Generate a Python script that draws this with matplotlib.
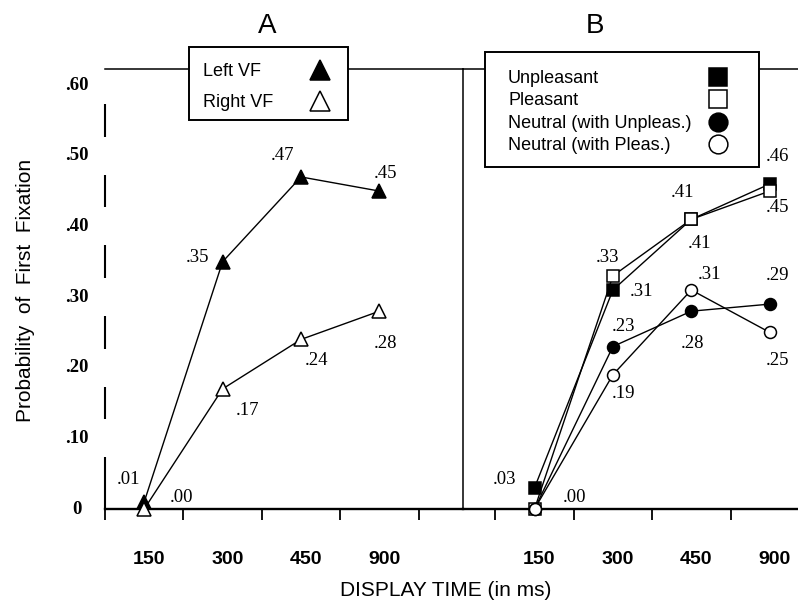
import matplotlib
matplotlib.use("Agg")
import matplotlib.pyplot as plt
from matplotlib.lines import Line2D
from matplotlib.patches import Rectangle
from matplotlib.transforms import ScaledTranslation

# ---- data ----
display_times = ["150", "300", "450", "900"]

left_vf = [0.01, 0.35, 0.47, 0.45]
right_vf = [0.00, 0.17, 0.24, 0.28]

unpleasant = [0.03, 0.31, 0.41, 0.46]
pleasant = [0.00, 0.33, 0.41, 0.45]
neutral_unpleas = [0.00, 0.23, 0.28, 0.29]
neutral_pleas = [0.00, 0.19, 0.31, 0.25]

y_ticks = [0.0, 0.10, 0.20, 0.30, 0.40, 0.50, 0.60]
y_tick_labels = ["0", ".10", ".20", ".30", ".40", ".50", ".60"]

# value label offsets in pixels (None = no label)
offsets_a = {
    "Left VF": [(-16, 22), (-25, 4), (-18, 21), (6, 18)],
    "Right VF": [(37, 12), (25, -22), (16, -21), (6, -32)],
}
offsets_b = {
    "Unpleasant": [(-30, 8), (29, -2), (8, -24), (8, 28)],
    "Pleasant": [(40, 12), (-5, 18), (-9, 27), (8, -16)],
    "Neutral (with Unpleas.)": [None, (11, 20), (1, -32), (8, 29)],
    "Neutral (with Pleas.)": [None, (11, -19), (18, 15), (8, -28)],
}

W, H = 798, 605
SANS = "Liberation Sans"
SERIF = "Liberation Serif"
YMAX = 440 / 706.5
STEP = 78.4


def fx(px):
    return px / W


def fy(py):
    return 1 - py / H


def plot_series(ax, values, offsets, marker, filled, ms):
    xs = list(range(len(values)))
    ax.plot(xs, values, color="black", lw=1.0, marker=marker, ms=ms,
            mfc="black" if filled else "white", mec="black", mew=1.1,
            clip_on=False, zorder=3)
    for x, v, off in zip(xs, values, offsets):
        if off is None:
            continue
        ax.annotate(f".{round(v * 100):02d}", (x, v), xytext=off,
                    textcoords="offset pixels", ha="center", va="center",
                    family=SERIF, fontsize=13.5)


def style_axes(ax, xlim):
    ax.set_xlim(*xlim)
    ax.set_ylim(0, YMAX)
    ax.set_yticks([])
    ax.patch.set_alpha(0)
    bounds = [t - 0.5 for t in range(5) if xlim[0] - 0.01 <= t - 0.5 <= xlim[1]]
    ax.set_xticks(bounds)
    ax.set_xticklabels([])
    ax.set_xticks(range(len(display_times)), minor=True)
    ax.set_xticklabels(display_times, minor=True, family=SANS,
                       fontweight="bold", fontsize=14)
    ax.tick_params(axis="x", which="major", direction="out", length=8,
                   width=1.3, color="black")
    ax.tick_params(axis="x", which="minor", length=0, pad=30)
    shift = ScaledTranslation(5 / 100, 0, fig.dpi_scale_trans)
    for lab in ax.get_xticklabels(minor=True):
        lab.set_transform(lab.get_transform() + shift)
    ax.spines["bottom"].set_linewidth(1.7)
    ax.spines["top"].set_linewidth(1.1)
    ax.spines["left"].set_visible(False)


fig = plt.figure(figsize=(W / 100, H / 100), dpi=100)

ax_a = fig.add_axes([fx(105), fy(509), (463 - 105) / W, 440 / H])
ax_b = fig.add_axes([fx(463), fy(509), (798 - 463) / W, 440 / H])

style_axes(ax_a, ((105 - 144.2) / STEP, (463 - 144.2) / STEP))
style_axes(ax_b, ((463 - 534.5) / STEP, (798 - 534.5) / STEP))
ax_a.spines["right"].set_linewidth(1.1)
ax_b.spines["right"].set_visible(False)

# broken left axis with gaps at the value labels
gap = 0.027
for lo, hi in zip(y_ticks[:-1], y_ticks[1:]):
    a = lo + gap if lo > 0 else 0.0
    ax_a.plot([0, 0], [a, hi - gap], color="black", lw=1.5,
              solid_capstyle="butt", transform=ax_a.get_yaxis_transform(),
              clip_on=False)
for t, lab in zip(y_ticks, y_tick_labels):
    ax_a.annotate(lab, (0, t), xycoords=ax_a.get_yaxis_transform(),
                  xytext=(-28, 0), textcoords="offset pixels", ha="center",
                  va="center", family=SERIF, fontweight="bold", fontsize=13.5,
                  annotation_clip=False)

# panel A
plot_series(ax_a, left_vf, offsets_a["Left VF"], "^", True, 10)
plot_series(ax_a, right_vf, offsets_a["Right VF"], "^", False, 10)

# panel B
plot_series(ax_b, unpleasant, offsets_b["Unpleasant"], "s", True, 8.6)
plot_series(ax_b, pleasant, offsets_b["Pleasant"], "s", False, 8.6)
plot_series(ax_b, neutral_unpleas, offsets_b["Neutral (with Unpleas.)"], "o", True, 8.6)
plot_series(ax_b, neutral_pleas, offsets_b["Neutral (with Pleas.)"], "o", False, 8.6)

# legend boxes (white, covering the top line)
for x0, y0, x1, y1 in [(189, 47, 348, 120), (485, 52, 759, 167)]:
    fig.add_artist(Rectangle((fx(x0), fy(y1)), fx(x1) - fx(x0), (y1 - y0) / H,
                             transform=fig.transFigure, facecolor="white",
                             edgecolor="black", lw=1.4, zorder=4))


def proxy(marker, filled, ms):
    return Line2D([], [], ls="none", marker=marker, ms=ms, mec="black",
                  mfc="black" if filled else "white", mew=1.1)


def boxed_legend(handles, labels, text_x, marker_x, top, hl, spacing):
    common = dict(loc="upper left", bbox_transform=fig.transFigure,
                  frameon=False, borderpad=0, borderaxespad=0,
                  labelspacing=spacing, prop={"family": SANS, "size": 13})
    # texts, left aligned
    blank = [Line2D([], [], ls="none") for _ in labels]
    fig.legend(blank, labels, bbox_to_anchor=(fx(text_x), fy(top)),
               handlelength=0, handletextpad=0, **common)
    # markers in their own column
    fs_px = 13 * 100 / 72
    fig.legend(handles, [" "] * len(labels),
               bbox_to_anchor=(fx(marker_x - hl * fs_px / 2), fy(top)),
               handlelength=hl, handletextpad=0, **common)


boxed_legend([proxy("^", True, 14.4), proxy("^", False, 14.4)],
             ["Left VF", "Right VF"], 203, 320, 63, 2.0, 0.8)
boxed_legend([proxy("s", True, 13.5), proxy("s", False, 13.5),
              proxy("o", True, 13.5), proxy("o", False, 13.5)],
             list(offsets_b.keys()), 508, 718, 70, 1.6, 0.3)

fig.text(fx(267), fy(26), "A", ha="center", va="center", family=SANS, fontsize=20)
fig.text(fx(595), fy(26), "B", ha="center", va="center", family=SANS, fontsize=20)
fig.text(fx(26), fy(290), "Probability  of  First  Fixation", rotation=90,
         ha="center", va="center", family=SANS, fontsize=15)
fig.text(fx(446), fy(591), "DISPLAY TIME (in ms)", ha="center", va="center",
         family=SANS, fontsize=15)

fig.savefig("out.png", dpi=100)
